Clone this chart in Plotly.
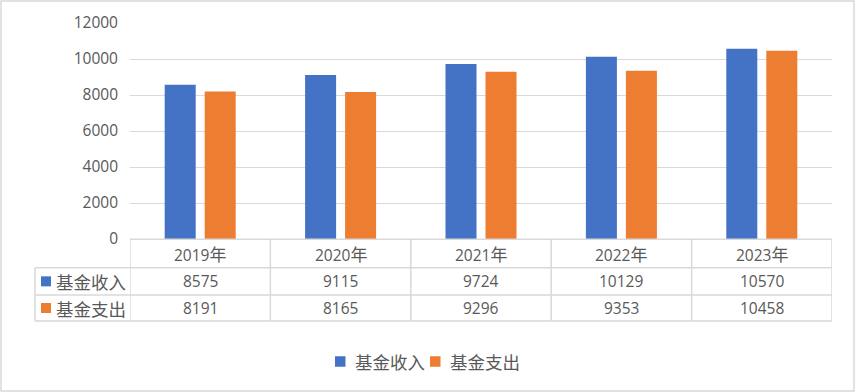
import plotly.graph_objects as go

years = ["2019年", "2020年", "2021年", "2022年", "2023年"]
series_names = ["基金收入", "基金支出"]
income = [8575, 9115, 9724, 10129, 10570]
expense = [8191, 8165, 9296, 9353, 10458]
y_ticks = [0, 2000, 4000, 6000, 8000, 10000, 12000]

colors = ["#4472C4", "#ED7D31"]
W, H = 855, 392
L, R, T, B = 130, 23, 23, 153
PW, PH = W - L - R, H - T - B
GRID = "#d9d9d9"
TXT = "#595959"
FONT = "Open Sans, Noto Sans CJK SC, sans-serif"
CJK = "Noto Sans CJK SC, sans-serif"


def px(x):
    return (x - L) / PW


def py(y):
    return (H - B - y) / PH


x_idx = list(range(len(years)))
fig = go.Figure()
for name, vals, c in zip(series_names, [income, expense], colors):
    fig.add_trace(go.Bar(x=x_idx, y=vals, name=name, marker=dict(color=c, line=dict(width=0))))

fig.update_layout(
    width=W, height=H,
    margin=dict(l=L, r=R, t=T, b=B, autoexpand=False),
    paper_bgcolor="white", plot_bgcolor="white",
    barmode="group", bargap=0.43, bargroupgap=0.225,
    font=dict(family=FONT, size=15, color=TXT),
    showlegend=False,
)
fig.update_xaxes(range=[-0.5, len(years) - 0.5], showticklabels=False, showgrid=False,
                 zeroline=False, showline=False, fixedrange=True)
fig.update_yaxes(range=[0, 12000], tickvals=y_ticks, ticktext=[str(v) for v in y_ticks],
                 showgrid=True, gridcolor=GRID, gridwidth=1.3, zeroline=False, showline=False,
                 ticks="", ticklabelstandoff=11, tickfont=dict(family=FONT, size=15.5, color=TXT))

shapes = []
line = dict(color=GRID, width=1.5)
y_rows = [239.3, 267.7, 295, 321]
# horizontal table lines
shapes.append(dict(type="line", xref="paper", yref="paper", x0=px(130), x1=px(832),
                   y0=py(y_rows[0]), y1=py(y_rows[0]), line=line))
for yy in y_rows[1:]:
    shapes.append(dict(type="line", xref="paper", yref="paper", x0=px(35), x1=px(832),
                       y0=py(yy), y1=py(yy), line=line))
# vertical table lines
shapes.append(dict(type="line", xref="paper", yref="paper", x0=px(35), x1=px(35),
                   y0=py(y_rows[1]), y1=py(y_rows[3]), line=line))
for i in range(len(years) + 1):
    shapes.append(dict(type="line", xref="x", yref="paper", x0=i - 0.5, x1=i - 0.5,
                       y0=py(y_rows[0]), y1=py(y_rows[3]), line=line))
# legend keys in table
row_centers = [(y_rows[1] + y_rows[2]) / 2, (y_rows[2] + y_rows[3]) / 2]
for yc, c in zip(row_centers, colors):
    shapes.append(dict(type="rect", xref="paper", yref="paper", x0=px(41), x1=px(51),
                       y0=py(yc - 5), y1=py(yc + 5), fillcolor=c, line=dict(width=0)))
# bottom legend keys
leg_y = 361.5
leg_x = [335, 430]
for lx, c in zip(leg_x, colors):
    shapes.append(dict(type="rect", xref="paper", yref="paper", x0=px(lx), x1=px(lx + 10.5),
                       y0=py(leg_y - 5.25), y1=py(leg_y + 5.25), fillcolor=c, line=dict(width=0)))
# outer border
shapes.append(dict(type="rect", xref="paper", yref="paper", x0=px(1), x1=px(854),
                   y0=py(1), y1=py(391), line=dict(color=GRID, width=1.5)))

ann = []
hc = (y_rows[0] + y_rows[1]) / 2
for i, yr in enumerate(years):
    txt = yr[:-1] + "<span style='font-family:Noto Sans CJK SC;font-size:17px'>" + yr[-1] + "</span>"
    ann.append(dict(x=i, xref="x", y=py(hc), yref="paper", yanchor="middle", text=txt,
                    showarrow=False, font=dict(family=FONT, size=15.5, color=TXT)))
for yc, name, vals in zip(row_centers, series_names, [income, expense]):
    ann.append(dict(x=px(54), xref="paper", xanchor="left", y=py(yc), yref="paper",
                    yanchor="middle", text=name, showarrow=False,
                    font=dict(family=CJK, size=17.5, color=TXT)))
    for i, v in enumerate(vals):
        ann.append(dict(x=i, xref="x", y=py(yc), yref="paper", yanchor="middle", text=str(v),
                        showarrow=False, font=dict(family=FONT, size=15.5, color=TXT)))
for lx, name in zip(leg_x, series_names):
    ann.append(dict(x=px(lx + 18), xref="paper", xanchor="left", y=py(leg_y), yref="paper",
                    yanchor="middle", text=name, showarrow=False,
                    font=dict(family=CJK, size=17.5, color=TXT)))

fig.update_layout(shapes=shapes, annotations=ann)
fig.write_html("out.html", config={"displayModeBar": False},
               post_script="document.body.style.margin='0';")
